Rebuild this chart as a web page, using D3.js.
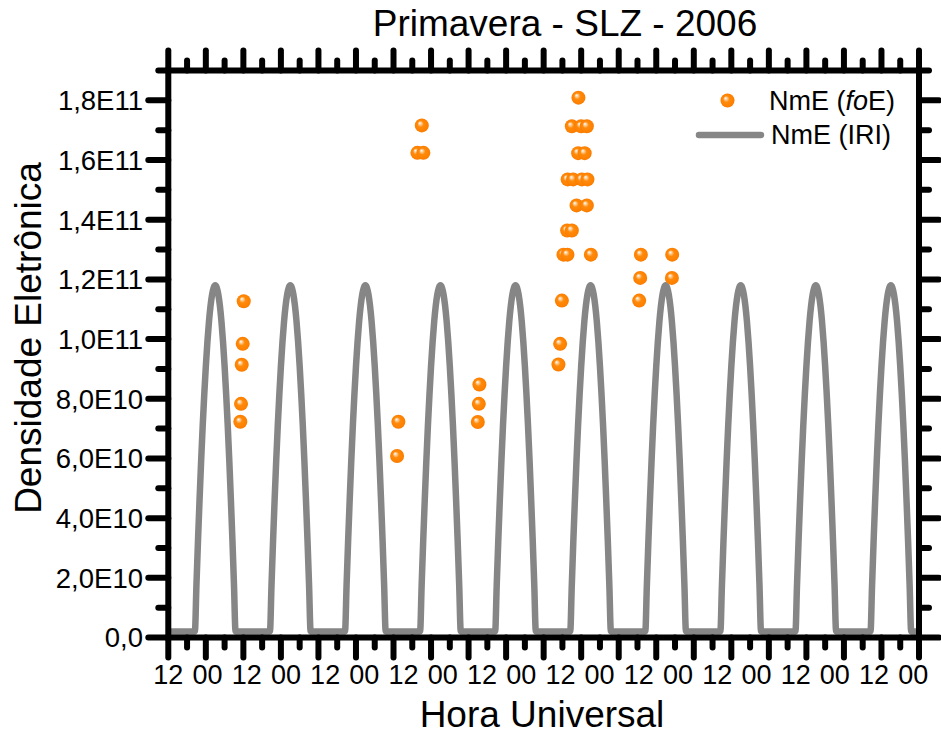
<!DOCTYPE html>
<html>
<head>
<meta charset="utf-8">
<script src="https://cdn.jsdelivr.net/npm/d3@7"></script>
<style>
  body { margin: 0; background: #fff; }
  svg { display: block; }
  text { font-family: "Liberation Sans", Arial, sans-serif; fill: #000; }
</style>
</head>
<body>
<svg id="chart" width="941" height="735"></svg>
<script>
// Time axis: hours counted from the first tick, ten days long.
// Densities are in units of 1E11 el/m³.

// NmE derived from ionosonde foE
const foeHours = [
  24.11, 23.79, 23.47, 23.25, 23.03,
  73.56, 73.14,
  81.04, 79.63, 81.55,
  99.46, 99.27, 98.95,
  131.12,
  129.01, 131.99, 133.81,
  131.03, 133.11,
  127.67, 129.43, 132.21, 134.00,
  130.52, 133.81,
  127.51, 129.01,
  126.33, 127.61, 135.09,
  125.82, 125.27, 124.73,
  151.08, 150.86, 150.54,
  161.09, 161.00
];
const foeValues = [
  1.127, 0.984, 0.914, 0.783, 0.723,
  0.723, 0.608,
  1.716, 1.624, 1.624,
  0.848, 0.783, 0.722,
  1.809,
  1.713, 1.713, 1.713,
  1.623, 1.623,
  1.535, 1.535, 1.535, 1.535,
  1.448, 1.448,
  1.364, 1.364,
  1.283, 1.283, 1.283,
  1.129, 0.984, 0.915,
  1.283, 1.205, 1.129,
  1.283, 1.205
];

// IRI NmE daily profile, half-hour steps starting at the first tick
const iriDayValues = [
  0.02, 0.02, 0.02, 0.02, 0.02, 0.02, 0.02, 0.02, 0.02, 0.02, 0.02, 0.02,
  0.02, 0.02, 0.02, 0.02, 0.02, 0.02, 0.176, 0.326, 0.464, 0.593, 0.710, 0.815,
  0.909, 0.990, 1.058, 1.111, 1.149, 1.172, 1.180, 1.172, 1.149, 1.111, 1.058, 0.990,
  0.909, 0.815, 0.710, 0.593, 0.464, 0.326, 0.176, 0.02, 0.02, 0.02, 0.02, 0.02
];
const iriStep = 0.5;
const iriDays = 10;

const xTickLabels = ["12","00","12","00","12","00","12","00","12","00",
                     "12","00","12","00","12","00","12","00","12","00"];
const yTickValues = [0, 0.2, 0.4, 0.6, 0.8, 1.0, 1.2, 1.4, 1.6, 1.8];
const yTickLabels = ["0,0","2,0E10","4,0E10","6,0E10","8,0E10",
                     "1,0E11","1,2E11","1,4E11","1,6E11","1,8E11"];

const svg = d3.select("#chart");
const pLeft = 168.3, pRight = 919, pTop = 70.5, pBottom = 637.5;

const x = d3.scaleLinear().domain([0, 240]).range([pLeft, pRight]);
const y = d3.scaleLinear().domain([0, 1.9]).range([pBottom, pTop]);
// hour labels sit on their own evenly spaced row
const xl = d3.scalePoint().domain(d3.range(xTickLabels.length)).range([168.3, 913.3]);

// sphere-like marker fill
const defs = svg.append("defs");
const grad = defs.append("radialGradient")
  .attr("id", "ball").attr("cx", "50%").attr("cy", "50%").attr("r", "50%")
  .attr("fx", "35%").attr("fy", "32%");
grad.append("stop").attr("offset", "0%").attr("stop-color", "#ffffff");
grad.append("stop").attr("offset", "22%").attr("stop-color", "#ffc88a");
grad.append("stop").attr("offset", "45%").attr("stop-color", "#ff8a0a");
grad.append("stop").attr("offset", "88%").attr("stop-color", "#ff8000");
grad.append("stop").attr("offset", "100%").attr("stop-color", "#f27a00");

// IRI curve
const iriSeries = [];
for (let d = 0; d < iriDays; d++) {
  iriDayValues.forEach((v, i) => iriSeries.push({ h: d * 24 + i * iriStep, v }));
}
iriSeries.push({ h: iriDays * 24, v: iriDayValues[0] });

svg.append("path")
  .datum(iriSeries)
  .attr("fill", "none")
  .attr("stroke", "#868686")
  .attr("stroke-width", 6.5)
  .attr("stroke-linejoin", "round")
  .attr("d", d3.line().x(d => x(d.h)).y(d => y(d.v)).curve(d3.curveMonotoneX));

// foE points
svg.append("g").selectAll("circle")
  .data(foeHours.map((h, i) => ({ h, v: foeValues[i] })))
  .join("circle")
  .attr("cx", d => x(d.h))
  .attr("cy", d => y(d.v))
  .attr("r", 7)
  .attr("fill", "url(#ball)");

// frame with outward ticks on all four sides
const ink = "#000";
const tickW = 6;
svg.append("rect")
  .attr("x", pLeft).attr("y", pTop)
  .attr("width", pRight - pLeft).attr("height", pBottom - pTop)
  .attr("fill", "none").attr("stroke", ink).attr("stroke-width", 6);

const xMajor = d3.range(0, 241, 12);
const xMinor = d3.range(6, 240, 12);
const yMinor = d3.range(0.1, 1.95, 0.2);

const majLen = 20, minLen = 10;

function xTicks(vals, len) {
  const g = svg.append("g").attr("stroke", ink).attr("stroke-width", tickW).attr("stroke-linecap", "round");
  vals.forEach(v => {
    g.append("line").attr("x1", x(v)).attr("x2", x(v)).attr("y1", pBottom).attr("y2", pBottom + len);
    g.append("line").attr("x1", x(v)).attr("x2", x(v)).attr("y1", pTop).attr("y2", pTop - len);
  });
}
function yTicks(vals, len) {
  const g = svg.append("g").attr("stroke", ink).attr("stroke-width", tickW).attr("stroke-linecap", "round");
  vals.forEach(v => {
    g.append("line").attr("y1", y(v)).attr("y2", y(v)).attr("x1", pLeft).attr("x2", pLeft - len);
    g.append("line").attr("y1", y(v)).attr("y2", y(v)).attr("x1", pRight).attr("x2", pRight + len);
  });
}
xTicks(xMajor, majLen);
xTicks(xMinor, minLen);
yTicks(yTickValues, majLen);
yTicks(yMinor, minLen);

// tick labels
svg.append("g").selectAll("text")
  .data(xTickLabels)
  .join("text")
  .attr("x", (d, i) => xl(i))
  .attr("y", 684)
  .attr("text-anchor", "middle")
  .attr("font-size", 27)
  .text(d => d);

svg.append("g").selectAll("text")
  .data(yTickValues)
  .join("text")
  .attr("x", 143)
  .attr("y", d => y(d))
  .attr("dy", "0.36em")
  .attr("text-anchor", "end")
  .attr("font-size", 27.5)
  .text((d, i) => yTickLabels[i]);

// titles
svg.append("text")
  .attr("x", 565).attr("y", 36)
  .attr("text-anchor", "middle")
  .attr("font-size", 37)
  .text("Primavera - SLZ - 2006");

svg.append("text")
  .attr("x", 542).attr("y", 727)
  .attr("text-anchor", "middle")
  .attr("font-size", 37)
  .text("Hora Universal");

svg.append("text")
  .attr("transform", "translate(41,338) rotate(-90)")
  .attr("text-anchor", "middle")
  .attr("font-size", 37)
  .text("Densidade Eletrônica");

// legend
const lg = svg.append("g");
lg.append("circle").attr("cx", 727.5).attr("cy", 100.5).attr("r", 7).attr("fill", "url(#ball)");
const t1 = lg.append("text").attr("x", 769).attr("y", 110).attr("font-size", 27);
t1.append("tspan").text("NmE (");
t1.append("tspan").attr("font-style", "italic").text("fo");
t1.append("tspan").text("E)");
lg.append("line").attr("x1", 699).attr("x2", 761).attr("y1", 135).attr("y2", 135)
  .attr("stroke", "#868686").attr("stroke-width", 6.5).attr("stroke-linecap", "round");
lg.append("text").attr("x", 771).attr("y", 144).attr("font-size", 27).text("NmE (IRI)");
</script>
</body>
</html>
